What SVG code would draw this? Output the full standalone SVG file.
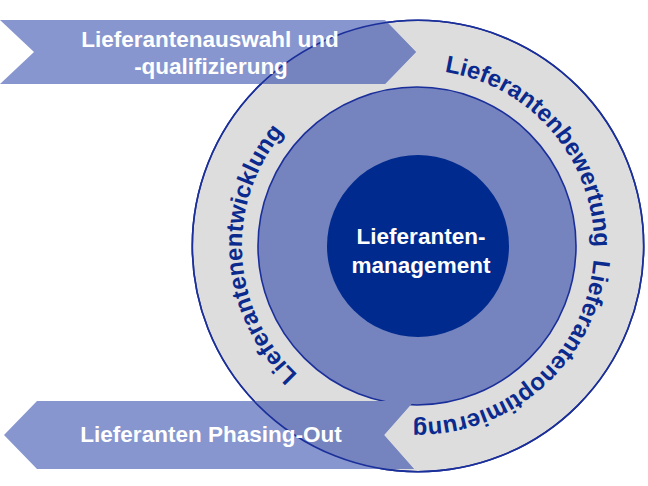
<svg xmlns="http://www.w3.org/2000/svg" xmlns:xlink="http://www.w3.org/1999/xlink" width="648" height="486" viewBox="0 0 648 486">
  <style>
    .ring { fill: #DDDDDD; stroke: #1B2F9A; stroke-width: 1.6; }
    .outline { fill: none; stroke: #1B2F9A; stroke-width: 1.6; }
    .mid { fill: #7584BE; stroke: #1B2F9A; stroke-width: 1.6; }
    .core { fill: #002A8E; }
    .arrow { fill: #8796CE; }
    .arrow-over { fill: #7584BE; }
    .wt { font-family: "Liberation Sans", Arial, sans-serif; font-weight: bold; fill: #FFFFFF; text-anchor: middle; }
    .rt { font-family: "Liberation Sans", Arial, sans-serif; font-weight: bold; fill: #0A2A8E; font-size: 24px; text-anchor: middle; }
  </style>
  <defs>
    <clipPath id="outerClip">
      <circle cx="418" cy="246" r="225.7"/>
    </clipPath>
    <path id="ringPath" d="M 418,70 A 176 176 0 1 1 418,422 A 176 176 0 1 1 418,70"/>
    <polygon id="arrowTopShape" points="0,20 385,20 416,52 385,84 0,84 34,52"/>
    <polygon id="arrowBottomShape" points="4,435 37,401 414,401 384,435 414,469 37,469"/>
  </defs>

  <g id="node-outer-ring">
    <circle class="ring" cx="418" cy="246" r="225.7"/>
  </g>
  <g id="node-middle-circle">
    <circle class="mid" cx="417" cy="246" r="159"/>
  </g>
  <g id="node-core">
    <circle class="core" cx="418" cy="246" r="91"/>
    <text class="wt" font-size="22.5" x="421" y="244">Lieferanten-</text>
    <text class="wt" font-size="22.5" x="421" y="273">management</text>
  </g>

  <g id="node-arrow-top">
    <use href="#arrowTopShape" class="arrow"/>
    <use href="#arrowTopShape" class="arrow-over" clip-path="url(#outerClip)"/>
  </g>
  <g id="node-arrow-bottom">
    <use href="#arrowBottomShape" class="arrow"/>
    <use href="#arrowBottomShape" class="arrow-over" clip-path="url(#outerClip)"/>
  </g>
  <g id="outer-outline">
    <circle class="outline" cx="418" cy="246" r="225.7"/>
  </g>

  <g id="arrow-labels">
    <text class="wt" font-size="22.5" x="210" y="47">Lieferantenauswahl und</text>
    <text class="wt" font-size="22.5" x="211" y="74">-qualifizierung</text>
    <text class="wt" font-size="22.5" x="211" y="442">Lieferanten Phasing-Out</text>
  </g>

  <g id="ring-labels">
    <text class="rt"><textPath href="#ringPath" startOffset="152">Lieferantenbewertung</textPath></text>
    <text class="rt"><textPath href="#ringPath" startOffset="424">Lieferantenoptimierung</textPath></text>
    <text class="rt"><textPath href="#ringPath" startOffset="819">Lieferantenentwicklung</textPath></text>
  </g>
</svg>
